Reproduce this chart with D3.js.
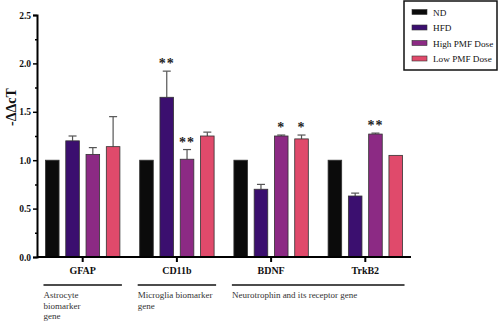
<!DOCTYPE html>
<html lang="en">
<head>
    <meta charset="UTF-8">
    <title>ddCt bars</title>
    <script src="https://d3js.org/d3.v7.min.js"></script>
    <style>
        body { margin: 0; background: #fff; }
    </style>
</head>
<body>
    <svg width="500" height="321"></svg>
    <script>
        const genes = ['GFAP', 'CD11b', 'BDNF', 'TrkB2']
        const groups = ['ND', 'HFD', 'High PMF Dose', 'Low PMF Dose']
        const colors = ['#0b0b0b', '#3b0f6f', '#8c2a84', '#e04a6b']
        // mean values per gene, in group order
        const values = [
            [1.0, 1.20, 1.06, 1.14],
            [1.0, 1.65, 1.01, 1.25],
            [1.0, 0.70, 1.25, 1.22],
            [1.0, 0.63, 1.27, 1.05]
        ]
        // upper error bar ends (null = no bar)
        const errTop = [
            [null, 1.25, 1.13, 1.45],
            [null, 1.92, 1.11, 1.29],
            [null, 0.75, 1.26, 1.26],
            [null, 0.66, 1.28, null]
        ]
        const stars = [
            ['', '', '', ''],
            ['', '**', '**', ''],
            ['', '', '*', '*'],
            ['', '', '**', '']
        ]
        const yTicks = [0, 0.5, 1.0, 1.5, 2.0, 2.5]
        const notes = [
            {from: 'GFAP', to: 'GFAP', lines: ['Astrocyte', 'biomarker', 'gene']},
            {from: 'CD11b', to: 'CD11b', lines: ['Microglia biomarker', 'gene']},
            {from: 'BDNF', to: 'TrkB2', lines: ['Neurotrophin and its receptor gene']}
        ]

        const serif = '"Liberation Serif", "DejaVu Serif", serif'
        const svg = d3.select('svg').attr('font-family', serif)
        const mLeft = 37, mRight = 411, mTop = 15, mBottom = 257

        const x = d3.scaleBand().domain(genes).range([mLeft, mRight]).paddingInner(0.21).paddingOuter(0.09)
        const xs = d3.scaleBand().domain(groups).range([0, x.bandwidth()]).paddingInner(0.33)
        const y = d3.scaleLinear().domain([0, 2.5]).range([mBottom, mTop])

        const g = svg.selectAll('g.gene').data(genes).join('g')
            .attr('transform', d => `translate(${x(d)},0)`)

        g.each(function (gene, i) {
            const sel = d3.select(this)
            groups.forEach((grp, j) => {
                const bx = xs(grp), bw = xs.bandwidth()
                if (errTop[i][j] != null) {
                    const cx = bx + bw / 2
                    sel.append('line').attr('x1', cx).attr('x2', cx)
                        .attr('y1', y(values[i][j])).attr('y2', y(errTop[i][j]))
                        .attr('stroke', '#555').attr('stroke-width', 1.2)
                    sel.append('line').attr('x1', cx - 4).attr('x2', cx + 4)
                        .attr('y1', y(errTop[i][j])).attr('y2', y(errTop[i][j]))
                        .attr('stroke', '#555').attr('stroke-width', 1.2)
                }
                sel.append('rect')
                    .attr('x', bx).attr('width', bw)
                    .attr('y', y(values[i][j])).attr('height', y(0) - y(values[i][j]))
                    .attr('fill', colors[j]).attr('stroke', '#333').attr('stroke-width', 0.8)
                if (stars[i][j]) {
                    const hi = errTop[i][j] != null ? errTop[i][j] : values[i][j]
                    sel.append('text').attr('x', bx + bw / 2).attr('y', y(hi) - 3)
                        .attr('text-anchor', 'middle').attr('font-size', 14).attr('font-weight', 'bold')
                        .attr('fill', '#222').attr('letter-spacing', 1).text(stars[i][j])
                }
            })
        })

        // y axis with minor ticks
        const yAxis = d3.axisLeft(y).tickValues(yTicks).tickFormat(d3.format('.1f')).tickSize(4).tickPadding(2)
        const ya = svg.append('g').attr('transform', `translate(${mLeft},0)`).call(yAxis)
            .attr('font-family', serif)
        ya.select('.domain').attr('stroke-width', 2)
        ya.selectAll('.tick line').attr('stroke-width', 1.5)
        ya.selectAll('text').attr('font-size', 9.5).attr('font-weight', 'bold').attr('fill', '#111')
        svg.append('g').attr('transform', `translate(${mLeft},0)`)
            .call(d3.axisLeft(y).tickValues([0.25, 0.75, 1.25, 1.75, 2.25]).tickSize(2).tickFormat(''))
            .call(s => s.select('.domain').remove())
            .selectAll('line').attr('stroke-width', 1.5)

        // x axis
        const xAxis = d3.axisBottom(x).tickSize(5).tickPadding(5)
        const xa = svg.append('g').attr('transform', `translate(0,${mBottom})`).call(xAxis)
            .attr('font-family', serif)
        xa.select('.domain').attr('d', `M${mLeft},0H${mRight}`).attr('stroke-width', 2)
        xa.selectAll('.tick line').attr('stroke-width', 2)
        xa.selectAll('text').attr('font-size', 10).attr('font-weight', 'bold').attr('fill', '#111')

        // group notes
        notes.forEach(n => {
            const x0 = x(n.from) - 2, x1 = x(n.to) + x.bandwidth() + 2
            svg.append('line').attr('x1', x0).attr('x2', x1).attr('y1', 285).attr('y2', 285)
                .attr('stroke', '#111').attr('stroke-width', 1.5)
            n.lines.forEach((t, k) => {
                svg.append('text').attr('x', x0).attr('y', 298 + k * 10.5)
                    .attr('font-size', 9).attr('fill', '#333').text(t)
            })
        })

        // y label
        svg.append('text').attr('transform', 'translate(16,107) rotate(-90)')
            .attr('text-anchor', 'middle').attr('font-size', 14).attr('font-weight', 'bold')
            .attr('fill', '#111').text('-ΔΔcT')

        // legend
        const lg = svg.append('g').attr('transform', 'translate(404,1)')
        lg.append('rect').attr('width', 93).attr('height', 69)
            .attr('fill', '#fff').attr('stroke', '#111').attr('stroke-width', 1.5)
        groups.forEach((grp, j) => {
            const ly = 11 + j * 15.5
            lg.append('rect').attr('x', 8).attr('y', ly - 2.5).attr('width', 15).attr('height', 5)
                .attr('fill', colors[j]).attr('stroke', '#333').attr('stroke-width', 0.6)
            lg.append('text').attr('x', 29).attr('y', ly + 3.5)
                .attr('font-size', 9.2).attr('fill', '#111').text(grp)
        })
    </script>
</body>
</html>
